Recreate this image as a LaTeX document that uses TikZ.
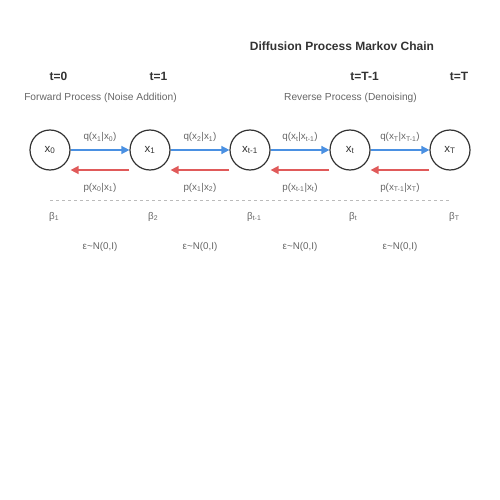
\documentclass[tikz,border=0pt]{standalone}
\usepackage{fontspec}
\setmainfont{Liberation Sans}
\usetikzlibrary{arrows.meta}
\definecolor{fwd}{HTML}{4A90E2}
\definecolor{rev}{HTML}{E05A5A}
\definecolor{ink}{HTML}{333333}
\definecolor{soft}{HTML}{666666}
\definecolor{dashc}{HTML}{BBBBBB}
\tikzset{
  state/.style={circle, draw=ink, line width=1.2pt, minimum size=40pt, inner sep=0pt, font=\fontsize{11.5}{13}\selectfont, text=ink},
  fwdarrow/.style={draw=fwd, line width=1.5pt, -{Triangle[length=8pt,width=8pt]}},
  revarrow/.style={draw=rev, line width=1.5pt, -{Triangle[length=8pt,width=8pt]}},
  lbl/.style={font=\fontsize{9.8}{11}\selectfont, text=soft},
  timelbl/.style={font=\bfseries\fontsize{12}{14}\selectfont, text=ink},
  proclbl/.style={font=\fontsize{10.2}{12}\selectfont, text=soft},
  betalbl/.style={font=\fontsize{9.8}{11}\selectfont, text=soft, anchor=west, inner sep=0pt},
}
\newcommand{\sbs}[1]{\textsubscript{#1}}
\begin{document}
\begin{tikzpicture}[x=1pt,y=-1pt]
\useasboundingbox (0,0) rectangle (500,500);
\node[font=\bfseries\fontsize{12}{14}\selectfont, text=ink] (title) at (342,46) {Diffusion Process Markov Chain};
\node[timelbl] (t0) at (58.5,76) {t=0};
\node[timelbl] (t1) at (158.5,76) {t=1};
\node[timelbl] (tT1) at (364.5,76) {t=T-1};
\node[timelbl] (tT) at (459,76) {t=T};
\node[proclbl] (fwdp) at (100.5,97.5) {Forward Process (Noise Addition)};
\node[proclbl] (revp) at (350.5,97.5) {Reverse Process (Denoising)};
\node[state] (x0) at (50,150) {x\sbs{0}};
\node[state] (x1) at (150,150) {x\sbs{1}};
\node[state] (xt1) at (250,150) {x\sbs{t-1}};
\node[state] (xt) at (350,150) {x\sbs{t}};
\node[state] (xT) at (450,150) {x\sbs{T}};
\foreach \a/\b/\q/\p in {x0/x1/{q(x\sbs{1}|x\sbs{0})}/{p(x\sbs{0}|x\sbs{1})},
                         x1/xt1/{q(x\sbs{2}|x\sbs{1})}/{p(x\sbs{1}|x\sbs{2})},
                         xt1/xt/{q(x\sbs{t}|x\sbs{t-1})}/{p(x\sbs{t-1}|x\sbs{t})},
                         xt/xT/{q(x\sbs{T}|x\sbs{T-1})}/{p(x\sbs{T-1}|x\sbs{T})}} {
  \draw[fwdarrow] (\a.east) -- (\b.west) node[midway, above=4pt, lbl] {\q};
  \draw[revarrow] ([yshift=-20pt]\b.west) -- ([yshift=-20pt]\a.east) node[midway, below=9pt, lbl] {\p};
}
\coordinate (dl) at (50,200);
\coordinate (dr) at (450,200);
\draw[dashc, line width=0.8pt, dash pattern=on 3pt off 3pt] (dl) -- (dr);
\node[betalbl] (b1) at (49,216.5) {β\sbs{1}};
\node[betalbl] (b2) at (148,216.5) {β\sbs{2}};
\node[betalbl] (bt1) at (247,216.5) {β\sbs{t-1}};
\node[betalbl] (bt) at (349,216.5) {β\sbs{t}};
\node[betalbl] (bT) at (449,216.5) {β\sbs{T}};
\foreach \i/\xx in {1/100,2/200,3/300,4/400}
  \node[lbl] (eps\i) at (\xx,246.5) {ε\textasciitilde N(0,I)};
\end{tikzpicture}
\end{document}
